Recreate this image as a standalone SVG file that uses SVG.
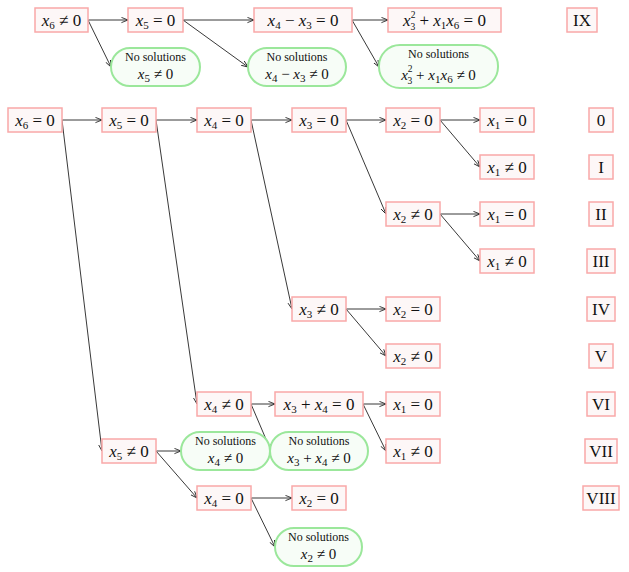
<svg xmlns="http://www.w3.org/2000/svg" width="629" height="572" viewBox="0 0 629 572">
<style>
.b{fill:#fdf7f7;stroke:#f9a8a8;stroke-width:1.5}
.g{fill:#f7fdf7;stroke:#9be79b;stroke-width:2}
text{font-family:"Liberation Serif",serif;font-size:17px;text-anchor:middle;fill:#111}
.s{font-size:12px}
.m{font-size:15px}
.i{font-style:italic}
.sb{font-size:11px}
.sp{font-size:9.5px}
.c line{stroke:#222;stroke-width:0.9;marker-end:url(#a)}
</style>
<defs><marker id="a" viewBox="0 0 8 8" refX="7.5" refY="4" markerWidth="7" markerHeight="7" orient="auto" markerUnits="userSpaceOnUse"><path d="M0,1 L7.5,4 L0,7" fill="none" stroke="#222" stroke-width="1"/></marker></defs>
<g class="c">
<line x1="88" y1="20" x2="128" y2="20"/><line x1="88" y1="20" x2="111" y2="67"/>
<line x1="183" y1="20" x2="254" y2="20"/><line x1="183" y1="20" x2="248" y2="67"/>
<line x1="352" y1="20" x2="388" y2="20"/><line x1="352" y1="20" x2="379" y2="67"/>
<line x1="62" y1="120" x2="102" y2="120"/><line x1="62" y1="120" x2="102" y2="451"/>
<line x1="156" y1="120" x2="197" y2="120"/><line x1="156" y1="120" x2="197" y2="404"/>
<line x1="251" y1="120" x2="292" y2="120"/><line x1="251" y1="120" x2="292" y2="309"/>
<line x1="346" y1="120" x2="386" y2="120"/><line x1="346" y1="120" x2="386" y2="214"/>
<line x1="440" y1="120" x2="480" y2="120"/><line x1="440" y1="120" x2="480" y2="167"/>
<line x1="440" y1="214" x2="480" y2="214"/><line x1="440" y1="214" x2="480" y2="261"/>
<line x1="346" y1="309" x2="386" y2="309"/><line x1="346" y1="309" x2="386" y2="356"/>
<line x1="251" y1="404" x2="275" y2="404"/><line x1="251" y1="404" x2="271" y2="451"/>
<line x1="363" y1="404" x2="386" y2="404"/><line x1="363" y1="404" x2="386" y2="451"/>
<line x1="156" y1="451" x2="181" y2="451"/><line x1="156" y1="451" x2="197" y2="498"/>
<line x1="251" y1="498" x2="292" y2="498"/><line x1="251" y1="498" x2="275" y2="547"/>
</g>
<g id="n1"><rect class="b" x="35" y="8" width="53" height="24"/><text x="61.5" y="26"><tspan class="i">x</tspan><tspan class="sb" dy="3">6</tspan><tspan dy="-3"> ≠ 0</tspan></text></g>
<g id="n2"><rect class="b" x="128" y="8" width="55" height="24"/><text x="155.5" y="26"><tspan class="i">x</tspan><tspan class="sb" dy="3">5</tspan><tspan dy="-3"> = 0</tspan></text></g>
<g id="n3"><rect class="b" x="254" y="8" width="98" height="24"/><text x="303" y="26"><tspan class="i">x</tspan><tspan class="sb" dy="3">4</tspan><tspan dy="-3"> − </tspan><tspan class="i">x</tspan><tspan class="sb" dy="3">3</tspan><tspan dy="-3"> = 0</tspan></text></g>
<g id="n4"><rect class="b" x="388" y="8" width="113" height="24"/><text x="444.5" y="26"><tspan class="i">x</tspan><tspan class="sp" dy="-8">2</tspan><tspan class="sp" dx="-5" dy="12">3</tspan><tspan dy="-4"> + </tspan><tspan class="i">x</tspan><tspan class="sb" dy="3">1</tspan><tspan class="i" dy="-3">x</tspan><tspan class="sb" dy="3">6</tspan><tspan dy="-3"> = 0</tspan></text></g>
<g id="lIX"><rect class="b" x="567" y="8" width="30" height="24"/><text x="582" y="26">IX</text></g>
<g id="g1"><rect class="g" x="111" y="48" width="89" height="38" rx="19"/><text class="s" x="155.5" y="61">No solutions</text><text class="m" x="155.5" y="79"><tspan class="i">x</tspan><tspan class="sb" dy="3">5</tspan><tspan dy="-3"> ≠ 0</tspan></text></g>
<g id="g2"><rect class="g" x="248" y="48" width="98" height="38" rx="19"/><text class="s" x="297" y="61">No solutions</text><text class="m" x="297" y="79"><tspan class="i">x</tspan><tspan class="sb" dy="3">4</tspan><tspan dy="-3"> − </tspan><tspan class="i">x</tspan><tspan class="sb" dy="3">3</tspan><tspan dy="-3"> ≠ 0</tspan></text></g>
<g id="g3"><rect class="g" x="379" y="45" width="119" height="43" rx="21"/><text class="s" x="438.5" y="58">No solutions</text><text class="m" x="438.5" y="80"><tspan class="i">x</tspan><tspan class="sp" dy="-8">2</tspan><tspan class="sp" dx="-5" dy="12">3</tspan><tspan dy="-4"> + </tspan><tspan class="i">x</tspan><tspan class="sb" dy="3">1</tspan><tspan class="i" dy="-3">x</tspan><tspan class="sb" dy="3">6</tspan><tspan dy="-3"> ≠ 0</tspan></text></g>
<g id="r0a"><rect class="b" x="8" y="108" width="54" height="24"/><text x="35" y="126"><tspan class="i">x</tspan><tspan class="sb" dy="3">6</tspan><tspan dy="-3"> = 0</tspan></text></g>
<g id="r0b"><rect class="b" x="102" y="108" width="54" height="24"/><text x="129" y="126"><tspan class="i">x</tspan><tspan class="sb" dy="3">5</tspan><tspan dy="-3"> = 0</tspan></text></g>
<g id="r0c"><rect class="b" x="197" y="108" width="54" height="24"/><text x="224" y="126"><tspan class="i">x</tspan><tspan class="sb" dy="3">4</tspan><tspan dy="-3"> = 0</tspan></text></g>
<g id="r0d"><rect class="b" x="292" y="108" width="54" height="24"/><text x="319" y="126"><tspan class="i">x</tspan><tspan class="sb" dy="3">3</tspan><tspan dy="-3"> = 0</tspan></text></g>
<g id="r0e"><rect class="b" x="386" y="108" width="54" height="24"/><text x="413" y="126"><tspan class="i">x</tspan><tspan class="sb" dy="3">2</tspan><tspan dy="-3"> = 0</tspan></text></g>
<g id="r0f"><rect class="b" x="480" y="108" width="54" height="24"/><text x="507" y="126"><tspan class="i">x</tspan><tspan class="sb" dy="3">1</tspan><tspan dy="-3"> = 0</tspan></text></g>
<g id="l0"><rect class="b" x="589" y="108" width="24" height="24"/><text x="601" y="126">0</text></g>
<g id="r1"><rect class="b" x="480" y="155" width="54" height="24"/><text x="507" y="173"><tspan class="i">x</tspan><tspan class="sb" dy="3">1</tspan><tspan dy="-3"> ≠ 0</tspan></text></g>
<g id="l1"><rect class="b" x="589" y="155" width="24" height="24"/><text x="601" y="173">I</text></g>
<g id="r2a"><rect class="b" x="386" y="202" width="54" height="24"/><text x="413" y="220"><tspan class="i">x</tspan><tspan class="sb" dy="3">2</tspan><tspan dy="-3"> ≠ 0</tspan></text></g>
<g id="r2b"><rect class="b" x="480" y="202" width="54" height="24"/><text x="507" y="220"><tspan class="i">x</tspan><tspan class="sb" dy="3">1</tspan><tspan dy="-3"> = 0</tspan></text></g>
<g id="l2"><rect class="b" x="589" y="202" width="24" height="24"/><text x="601" y="220">II</text></g>
<g id="r3"><rect class="b" x="480" y="249" width="54" height="24"/><text x="507" y="267"><tspan class="i">x</tspan><tspan class="sb" dy="3">1</tspan><tspan dy="-3"> ≠ 0</tspan></text></g>
<g id="l3"><rect class="b" x="587" y="249" width="28" height="24"/><text x="601" y="267">III</text></g>
<g id="r4a"><rect class="b" x="292" y="297" width="54" height="24"/><text x="319" y="315"><tspan class="i">x</tspan><tspan class="sb" dy="3">3</tspan><tspan dy="-3"> ≠ 0</tspan></text></g>
<g id="r4b"><rect class="b" x="386" y="297" width="54" height="24"/><text x="413" y="315"><tspan class="i">x</tspan><tspan class="sb" dy="3">2</tspan><tspan dy="-3"> = 0</tspan></text></g>
<g id="l4"><rect class="b" x="587" y="297" width="28" height="24"/><text x="601" y="315">IV</text></g>
<g id="r5"><rect class="b" x="386" y="344" width="54" height="24"/><text x="413" y="362"><tspan class="i">x</tspan><tspan class="sb" dy="3">2</tspan><tspan dy="-3"> ≠ 0</tspan></text></g>
<g id="l5"><rect class="b" x="589" y="344" width="24" height="24"/><text x="601" y="362">V</text></g>
<g id="r6a"><rect class="b" x="197" y="392" width="54" height="24"/><text x="224" y="410"><tspan class="i">x</tspan><tspan class="sb" dy="3">4</tspan><tspan dy="-3"> ≠ 0</tspan></text></g>
<g id="r6b"><rect class="b" x="275" y="392" width="88" height="24"/><text x="319" y="410"><tspan class="i">x</tspan><tspan class="sb" dy="3">3</tspan><tspan dy="-3"> + </tspan><tspan class="i">x</tspan><tspan class="sb" dy="3">4</tspan><tspan dy="-3"> = 0</tspan></text></g>
<g id="r6c"><rect class="b" x="386" y="392" width="54" height="24"/><text x="413" y="410"><tspan class="i">x</tspan><tspan class="sb" dy="3">1</tspan><tspan dy="-3"> = 0</tspan></text></g>
<g id="l6"><rect class="b" x="587" y="392" width="28" height="24"/><text x="601" y="410">VI</text></g>
<g id="r7a"><rect class="b" x="102" y="439" width="54" height="24"/><text x="129" y="457"><tspan class="i">x</tspan><tspan class="sb" dy="3">5</tspan><tspan dy="-3"> ≠ 0</tspan></text></g>
<g id="g4"><rect class="g" x="181" y="432" width="89" height="38" rx="19"/><text class="s" x="225.5" y="445">No solutions</text><text class="m" x="225.5" y="463"><tspan class="i">x</tspan><tspan class="sb" dy="3">4</tspan><tspan dy="-3"> ≠ 0</tspan></text></g>
<g id="g5"><rect class="g" x="270" y="432" width="98" height="38" rx="19"/><text class="s" x="319" y="445">No solutions</text><text class="m" x="319" y="463"><tspan class="i">x</tspan><tspan class="sb" dy="3">3</tspan><tspan dy="-3"> + </tspan><tspan class="i">x</tspan><tspan class="sb" dy="3">4</tspan><tspan dy="-3"> ≠ 0</tspan></text></g>
<g id="r7b"><rect class="b" x="386" y="439" width="54" height="24"/><text x="413" y="457"><tspan class="i">x</tspan><tspan class="sb" dy="3">1</tspan><tspan dy="-3"> ≠ 0</tspan></text></g>
<g id="l7"><rect class="b" x="585" y="439" width="32" height="24"/><text x="601" y="457">VII</text></g>
<g id="r8a"><rect class="b" x="197" y="486" width="54" height="24"/><text x="224" y="504"><tspan class="i">x</tspan><tspan class="sb" dy="3">4</tspan><tspan dy="-3"> = 0</tspan></text></g>
<g id="r8b"><rect class="b" x="292" y="486" width="54" height="24"/><text x="319" y="504"><tspan class="i">x</tspan><tspan class="sb" dy="3">2</tspan><tspan dy="-3"> = 0</tspan></text></g>
<g id="l8"><rect class="b" x="583" y="486" width="36" height="24"/><text x="601" y="504">VIII</text></g>
<g id="g6"><rect class="g" x="275" y="528" width="87" height="38" rx="19"/><text class="s" x="318.5" y="541">No solutions</text><text class="m" x="318.5" y="559"><tspan class="i">x</tspan><tspan class="sb" dy="3">2</tspan><tspan dy="-3"> ≠ 0</tspan></text></g>
</svg>
